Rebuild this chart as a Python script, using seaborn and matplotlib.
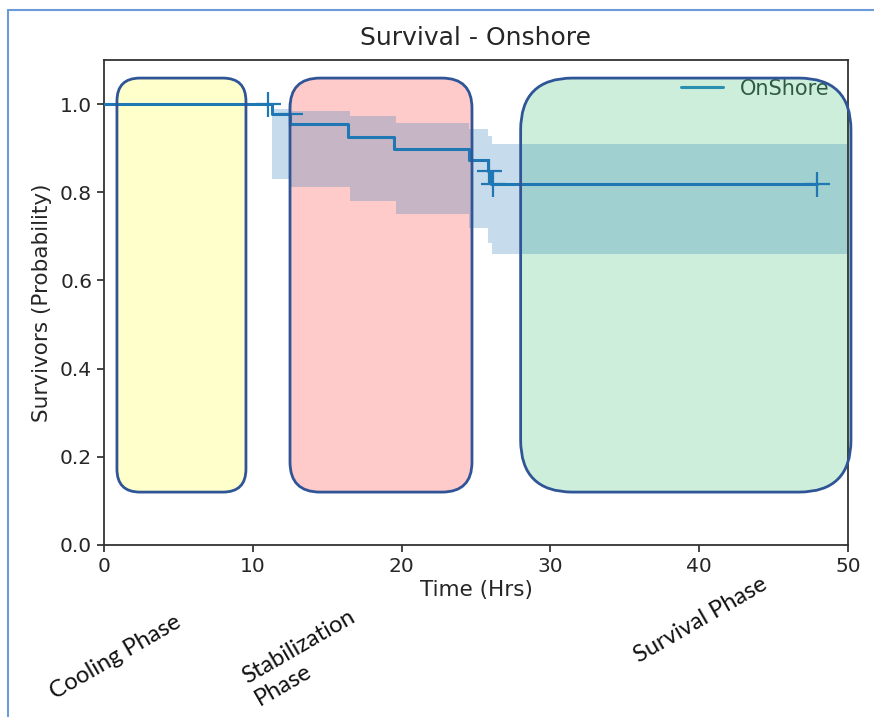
import matplotlib
matplotlib.use("Agg")
import matplotlib.pyplot as plt
from matplotlib.patches import FancyBboxPatch
from matplotlib.lines import Line2D
import numpy as np
import pandas as pd
import seaborn as sns

# ---------------- data ----------------
surv_time = [0.0, 11.3, 12.5, 16.4, 19.5, 24.5, 25.8, 26.0, 47.9]
surv_prob = [1.0, 0.977, 0.955, 0.925, 0.899, 0.873, 0.848, 0.818, 0.818]

ci_time = [0.0, 11.3, 12.5, 16.5, 19.6, 24.5, 25.8, 26.1, 50.0]
ci_upper = [1.0, 0.99, 0.984, 0.973, 0.958, 0.943, 0.928, 0.909, 0.909]
ci_lower = [1.0, 0.831, 0.811, 0.780, 0.751, 0.720, 0.686, 0.660, 0.660]

censor_time = [11.0, 12.5, 25.9, 26.15, 47.9]
censor_prob = [1.0, 0.977, 0.848, 0.818, 0.818]

series_name = "OnShore"
title = "Survival - Onshore"
x_label = "Time (Hrs)"
y_label = "Survivors (Probability)"
x_ticks = [0, 10, 20, 30, 40, 50]
y_ticks = [0.0, 0.2, 0.4, 0.6, 0.8, 1.0]

phase_names = ["Cooling Phase", "Stabilization\nPhase", "Survival Phase"]

# ---------------- layout / style ----------------
phase_x0 = [0.87, 12.5, 28.0]
phase_x1 = [9.54, 24.73, 50.2]
phase_y0, phase_y1 = 0.12, 1.059
phase_radius_px = [23, 30, 52]
phase_fill = ["#ffffcc", "#ffcaca", "#cdeedb"]
phase_edge = "#2f5597"
phase_label_pos = [(115, 657), (305, 658), (701, 620)]  # figure pixels

W, H = 874, 717
sns.set_style("ticks")
plt.rcParams["font.family"] = ["DejaVu Sans"]

fig = plt.figure(figsize=(W / 100, H / 100), dpi=100)
ax_l, ax_r, ax_t, ax_b = 104, 848, 60, 545
ax = fig.add_axes([ax_l / W, 1 - ax_b / H, (ax_r - ax_l) / W, (ax_b - ax_t) / H])

blue = "#1f77b4"
text_c = "#262626"

# confidence band
ax.fill_between(ci_time, ci_lower, ci_upper, step="post", color=blue,
                alpha=0.25, lw=0, zorder=1)

# survival curve
df = pd.DataFrame({"time": surv_time, "prob": surv_prob})
sns.lineplot(data=df, x="time", y="prob", drawstyle="steps-post", ax=ax,
             color=blue, linewidth=2.2, label=series_name, estimator=None,
             sort=False, zorder=3)

# censor marks
ax.plot(censor_time, censor_prob, linestyle="none", marker="+", ms=18,
        mew=1.6, color=blue, zorder=3)

ax.set_xlim(0, 50)
ax.set_ylim(0, 1.1)
ax.set_xticks(x_ticks)
ax.set_yticks(y_ticks)
ax.set_yticklabels([f"{v:.1f}" for v in y_ticks])
ax.tick_params(axis="both", labelsize=14.5, colors=text_c, length=5, width=1.2,
               direction="out")
for s in ax.spines.values():
    s.set_color("#333333")
    s.set_linewidth(1.3)
ax.set_xlabel(x_label, fontsize=15.5, color=text_c, labelpad=3)
ax.set_ylabel(y_label, fontsize=15.5, color=text_c, labelpad=6)
ax.set_title(title, fontsize=18, color=text_c, pad=11)

leg = ax.legend(loc="upper right", fontsize=15, framealpha=0,
                edgecolor="#cccccc", fancybox=True)
for t in leg.get_texts():
    t.set_color("#2e5a44")
for ln in leg.get_lines():
    ln.set_color("#2b8fb0")

# phase boxes (fill beneath the data, outline above everything)
px_per_x = (ax_r - ax_l) / 50.0
px_per_y = (ax_b - ax_t) / 1.1
asp = px_per_x / px_per_y
for x0, x1, r, fc in zip(phase_x0, phase_x1, phase_radius_px, phase_fill):
    rs = r / px_per_x
    for face, edge, z in [(fc, "none", 0.5), ("none", phase_edge, 6)]:
        p = FancyBboxPatch((x0, phase_y0), x1 - x0, phase_y1 - phase_y0,
                           boxstyle=f"round,pad=0,rounding_size={rs}",
                           mutation_aspect=asp, transform=ax.transData,
                           facecolor=face, edgecolor=edge, linewidth=2.0,
                           clip_on=False, zorder=z)
        ax.add_patch(p)

# phase labels below the axis
for name, (px, py) in zip(phase_names, phase_label_pos):
    fig.text(px / W, 1 - py / H, name, rotation=30, ha="center", va="center",
             multialignment="left", fontsize=17, family=["Lato", "DejaVu Sans"],
             color="#111111", linespacing=1.3)

# outer frame lines (left and top)
frame_c = "#6a9bd8"
fig.add_artist(Line2D([8 / W, 8 / W], [0, 1 - 10 / H], transform=fig.transFigure,
                      color=frame_c, lw=1.5))
fig.add_artist(Line2D([8 / W, 1], [1 - 10 / H, 1 - 10 / H], transform=fig.transFigure,
                      color=frame_c, lw=1.5))

fig.savefig("out.png", dpi=100)
